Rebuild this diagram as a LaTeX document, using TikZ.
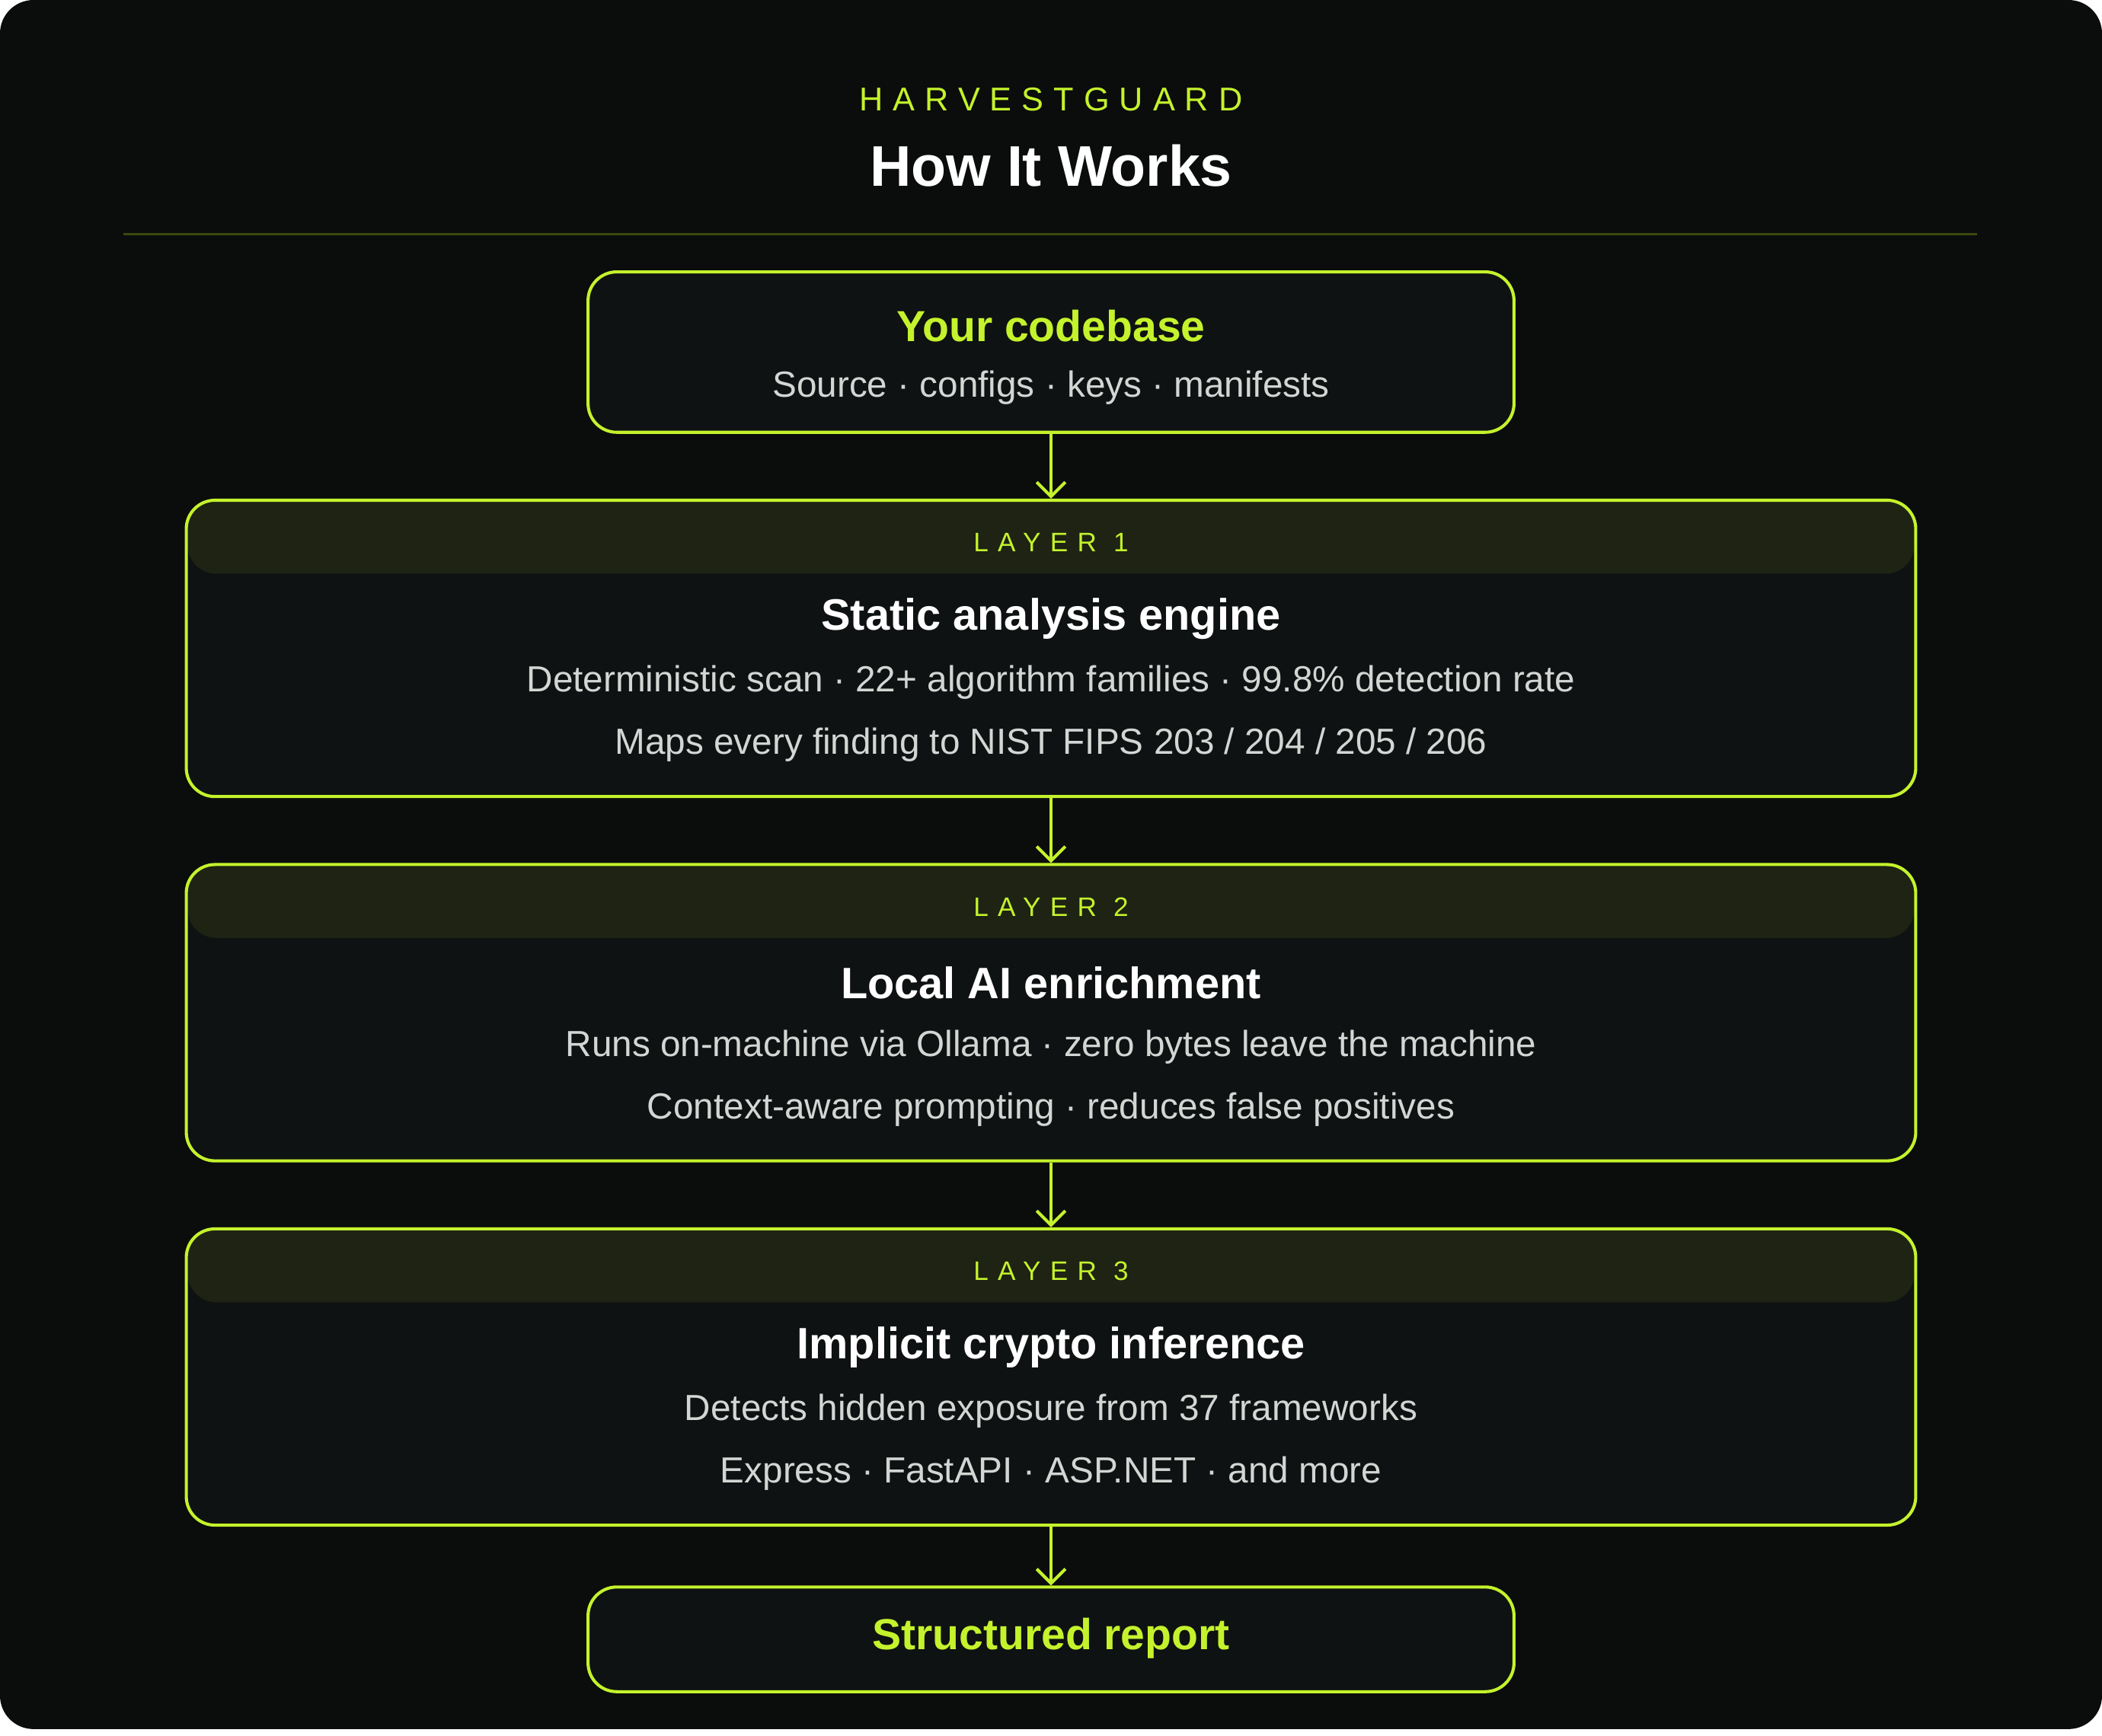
\documentclass[tikz,border=0pt]{standalone}
\usepackage{fontspec}
\setmainfont{Liberation Sans}
\usetikzlibrary{positioning}
\usetikzlibrary{arrows.meta}
\definecolor{lime}{HTML}{C4F22C}
\definecolor{bgdark}{HTML}{0B0C0C}
\definecolor{boxfill}{HTML}{0F1212}
\definecolor{bandfill}{HTML}{1E2314}
\definecolor{rulecol}{HTML}{3A4A10}
\definecolor{softgray}{HTML}{D4D6D4}
\newcommand{\spaced}[2][35]{{\addfontfeature{LetterSpace=#1}#2}}
\begin{document}
\begin{tikzpicture}[x=0.1mm,y=-0.1mm,
    stage/.style={draw=lime,line width=0.65pt,fill=boxfill,rounded corners=6pt,minimum width=6.81cm},
    layer/.style={draw=lime,line width=0.65pt,rounded corners=6pt,minimum width=12.72cm,minimum height=2.18cm},
    band/.style={fill=bandfill,rounded corners=6pt,minimum width=12.7cm,minimum height=0.54cm},
    tag/.style={text=lime,font=\fontsize{5.6}{7}\selectfont},
    head/.style={text=white,font=\bfseries\fontsize{9.2}{11}\selectfont},
    body/.style={text=softgray,font=\fontsize{7.6}{9}\selectfont},
    flow/.style={draw=lime,line width=0.65pt,-{Straight Barb[length=3pt,width=6pt]}}]
        \useasboundingbox (0,0) rectangle (1546,1277);
        \fill[bgdark,rounded corners=7pt] (0,0) rectangle (1546,1272);
        % title
        \node[text=lime,font=\fontsize{6.9}{9}\selectfont] (brand) at (773,73) {\spaced[30]{HARVESTGUARD}};
        \node[text=white,font=\bfseries\fontsize{12}{14}\selectfont] (title) at (773,122) {How It Works};
        \draw[rulecol,line width=0.5pt] (91,172) -- (1454,172);
        % input
        \node[stage,minimum height=1.18cm] (src) at (773,259) {};
        \node[text=lime,font=\bfseries\fontsize{9.1}{11}\selectfont] (srct) at (773,240) {Your codebase};
        \node[body] (srcb) at (773,285) {Source · configs · keys · manifests};
        % layers
        \foreach \i/\y/\t/\a/\b in {
            1/368/{Static analysis engine}/{Deterministic scan · 22+ algorithm families · 99.8\% detection rate}/{Maps every finding to NIST FIPS 203 / 204 / 205 / 206},
            2/636/{Local AI enrichment}/{Runs on-machine via Ollama · zero bytes leave the machine}/{Context-aware prompting · reduces false positives},
            3/904/{Implicit crypto inference}/{Detects hidden exposure from 37 frameworks}/{Express · FastAPI · ASP.NET · and more}} {
          \fill[boxfill,rounded corners=6pt] (137,\y) rectangle (1409,\y+218);
          \node[band] (band\i) at (773,\y+27) {};
          \node[layer] (l\i) at (773,\y+109) {};
          \node[tag] (tag\i) at (773,\y+31) {\spaced{LAYER \i}};
          \node[head] (head\i) at (773,\y+87) {\t};
          \node[body] (a\i) at (773,\y+134) {\a};
          \node[body] (b\i) at (773,\y+180) {\b};
        }
        % output
        \node[stage,minimum height=0.77cm] (out) at (773,1206) {};
        \node[text=lime,font=\bfseries\fontsize{9.1}{11}\selectfont] (outt) at (773,1205) {Structured report};
        % arrows
        \path[flow] (src) -- (l1);
        \path[flow] (l1) -- (l2);
        \path[flow] (l2) -- (l3);
        \path[flow] (l3) -- (out);
      \end{tikzpicture}
\end{document}
